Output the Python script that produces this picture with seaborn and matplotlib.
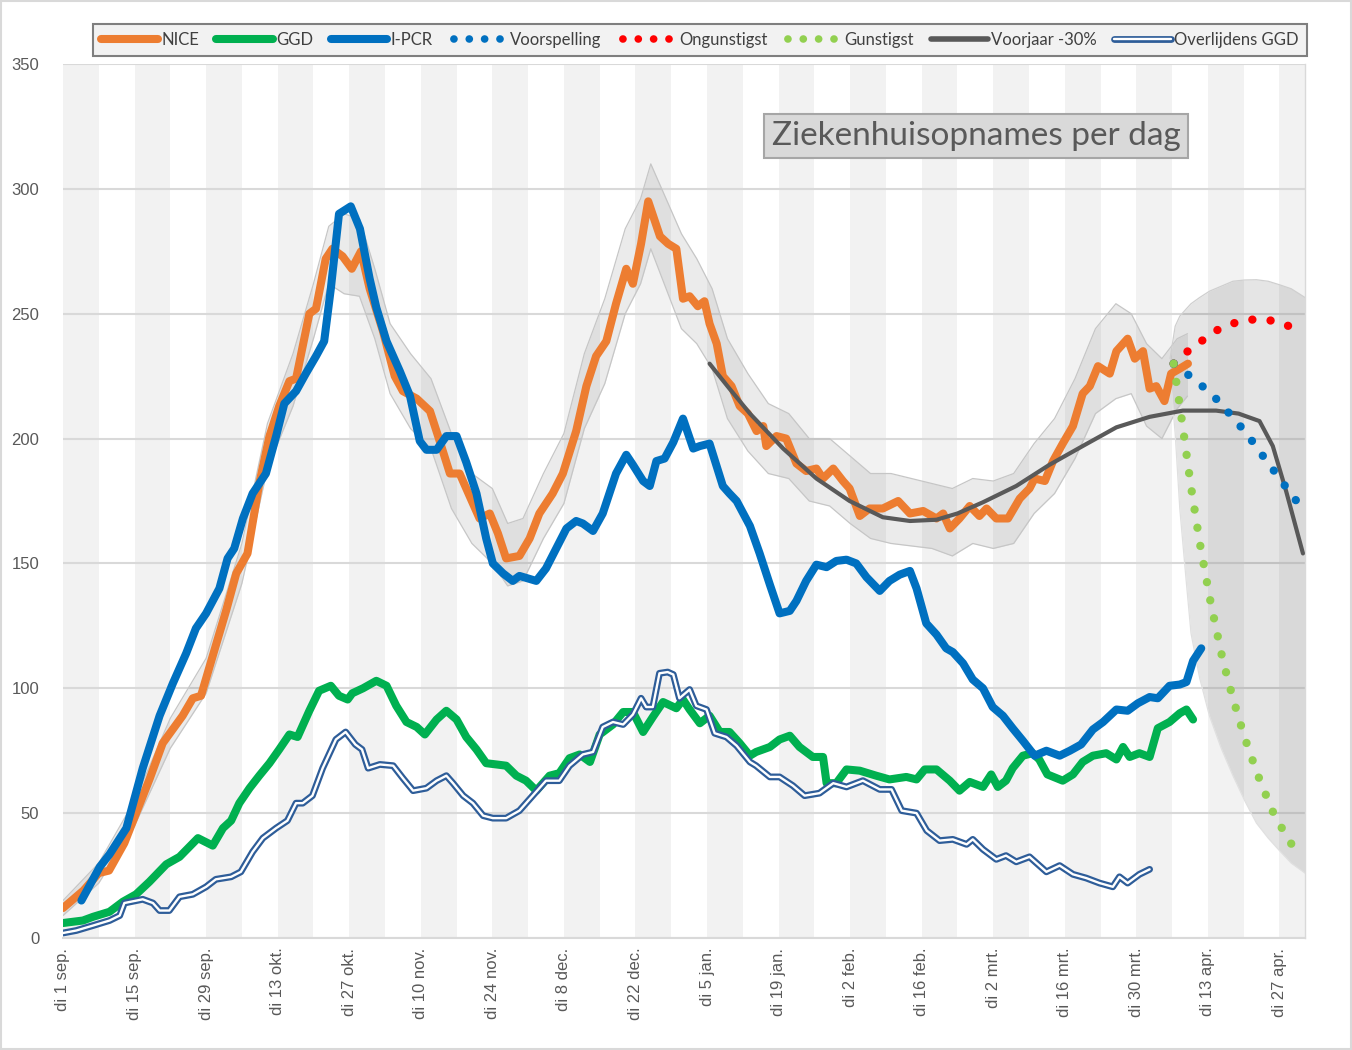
import numpy as np
import pandas as pd
import matplotlib
matplotlib.use("Agg")
import matplotlib.pyplot as plt
import matplotlib.patheffects as pe
from matplotlib.lines import Line2D
from matplotlib.patches import Rectangle
import seaborn as sns

# ---------------- data (x = days since di 1 sep. 2020) ----------------
tick_days = [0, 14, 28, 42, 56, 70, 84, 98, 112, 126, 140, 154, 168, 182, 196, 210, 224, 238]
tick_labels = ["di 1 sep.", "di 15 sep.", "di 29 sep.", "di 13 okt.", "di 27 okt.", "di 10 nov.",
               "di 24 nov.", "di 8 dec.", "di 22 dec.", "di 5 jan.", "di 19 jan.", "di 2 feb.",
               "di 16 feb.", "di 2 mrt.", "di 16 mrt.", "di 30 mrt.", "di 13 apr.", "di 27 apr."]

nice_days = [0, 4, 7, 9, 12, 17, 19.5, 23.4, 25.4, 27, 29.3, 31.9, 33.9, 36.1, 38.4, 40.4, 42.3, 44.3,
             45.6, 46.9, 48.2, 49.5, 51.4, 52.7, 54.7, 56.5, 58.3, 60, 62.6, 64.9, 66.5, 69.2, 71.8,
             73.7, 75.7, 77.6, 78.9, 81.5, 83.5, 85.1, 86.7, 89.3, 91.3, 93.2, 95.8, 97.8, 100.4,
             102.4, 104.3, 106.3, 108.2, 110.2, 111.5, 113.1, 114.5, 116.8, 118.4, 120, 121.3, 122.6,
             124.2, 125.5, 126.5, 127.9, 129.1, 130.8, 132.4, 134, 135.7, 137, 137.6, 139.6, 141.5,
             143.5, 145.4, 147.4, 148.7, 150.7, 152.6, 153.9, 155.9, 157.8, 160.4, 163.4, 165.7,
             168.3, 170.9, 172.2, 173.5, 175.4, 177.4, 179.3, 180.7, 182.6, 184.9, 187.2, 189.1,
             190.1, 192.1, 193.7, 195.6, 197.6, 199.5, 200.9, 202.5, 204.8, 206.1, 208.3, 209.7,
             211.3, 212.6, 213.9, 215.5, 216.8, 218.5, 220.1]
nice_vals = [12, 19, 26, 27, 38, 64, 78, 89, 96, 97, 113, 131, 146, 154, 182, 201, 213, 223,
             224, 237, 250, 252, 272, 276, 273, 268, 275, 260, 243, 225, 219, 216, 211,
             199, 186, 186, 180, 168, 170, 162, 152, 153, 160, 170, 178, 186, 203,
             221, 233, 239, 254, 268, 262, 278, 295, 281, 278, 276, 256, 257,
             253, 255, 246, 238, 225, 221, 213, 210, 203, 205, 197, 201, 200,
             190, 187, 188, 184, 188, 183, 180, 169, 172, 172, 175, 170,
             171, 168, 170, 164, 168, 173, 169, 172, 168, 168, 176, 180,
             184, 183, 191, 198, 205, 218, 221, 229, 226, 235, 240, 232,
             235, 220, 221, 215, 226, 228, 230]

band_days = [0, 7, 14, 21, 28, 35, 40, 45, 49, 52, 55, 58, 61, 64, 68, 72, 76, 80, 84, 87, 90, 94, 98,
             102, 106, 110, 113, 115, 118, 121, 124, 127, 130, 134, 138, 142, 146, 150, 154, 158, 162,
             166, 170, 174, 178, 182, 186, 190, 194, 198, 202, 206, 209, 212, 215, 218, 220]
band_hi = [15, 30, 55, 88, 112, 158, 206, 234, 262, 285, 290, 288, 268, 246, 234, 224, 202, 186, 180,
           166, 168, 186, 202, 234, 256, 284, 296, 310, 296, 282, 272, 260, 240, 226, 214, 210, 200,
           200, 193, 186, 186, 184, 182, 180, 184, 183, 186, 198, 208, 224, 244, 254, 250, 238, 232,
           240, 242]
band_lo = [9, 22, 45, 76, 98, 142, 188, 213, 240, 262, 258, 257, 240, 218, 204, 196, 172, 158, 150,
           141, 143, 160, 174, 204, 222, 250, 262, 276, 260, 244, 238, 228, 208, 195, 186, 184, 175,
           173, 166, 160, 158, 157, 156, 153, 158, 156, 158, 170, 178, 192, 210, 216, 218, 205, 200,
           212, 217]

ggd_days = [0, 3.9, 5.9, 9.1, 11.7, 14.3, 16.9, 20.2, 22.8, 26.4, 29.3, 31.3, 32.9, 34.5, 36.5, 38.4,
            40.4, 42.3, 44.3, 45.9, 48.2, 50.1, 52.4, 54, 55.7, 56.6, 58.7, 61.3, 63.3, 65.2, 67.2,
            69.2, 70.8, 73.1, 75, 77, 78.9, 80.9, 82.8, 84.8, 86.7, 88.7, 90.6, 92.6, 95.2, 97.1,
            99.1, 101.1, 103.1, 105, 107.6, 109.6, 111.5, 113.5, 115.4, 117.4, 120, 121.3, 122.6,
            124.6, 126.5, 128.5, 130.4, 132.4, 134.4, 135.6, 138.3, 140.2, 142.2, 144.1, 146.7,
            148.7, 149.4, 151.3, 153.3, 155.9, 159.1, 161.7, 165, 167, 168.6, 170.9, 173.5, 175.4,
            177.4, 180, 181.6, 182.9, 184.5, 185.8, 187.8, 189.7, 191, 192.6, 195.6, 197.6, 199.5,
            201.5, 204.1, 206.1, 207.4, 208.7, 210.6, 212.6, 214.2, 216.5, 218.5, 219.8, 221.1]
ggd_vals = [6, 7, 8.5, 10.5, 14.5, 17.5, 22.5, 29.5, 32.5, 40, 37, 44, 47, 54, 60, 65,
            70, 75.5, 81.5, 80.5, 91, 99, 101, 97, 95.5, 98, 100, 103, 101, 93, 86.5,
            84.5, 81.5, 87.5, 91, 87.5, 80.5, 75.5, 70, 69.5, 69, 65, 63, 59, 65, 66,
            72, 73.5, 70.5, 81.5, 85.5, 90.5, 90.5, 82.5, 88.5, 94.5, 92, 95.5, 91.5,
            86, 89, 82.5, 82.5, 78, 73, 74.5, 76.5, 79.5, 81, 76.5, 72.5,
            72.5, 62, 62, 67.5, 67, 65, 63.5, 64.5, 63.5, 67.5, 67.5, 63, 59,
            62.5, 60.5, 65.5, 60.5, 63, 68, 73, 74, 71.5, 65.5, 63, 65.5, 70.5,
            73, 74, 71.5, 76.5, 72.5, 74, 72.5, 84, 86.5, 90, 91.5, 87.5]

pcr_days = [3.6, 7.2, 9.1, 12.4, 15.6, 18.9, 21.5, 24.1, 26, 28, 30.6, 32.2, 33.5, 35.2, 37.1, 39.7,
            41.7, 43.3, 45.6, 47.5, 49.5, 51.1, 52.4, 54, 56.3, 58.1, 60, 61.3, 63.3, 65.9, 67.9,
            69.8, 71.1, 73.1, 75, 77, 78.9, 80.9, 82.8, 84.1, 86.1, 88, 89.3, 92.6, 94.5, 96.5,
            98.5, 100.4, 101.7, 103.7, 105.6, 108.2, 110.2, 111.5, 113.5, 114.8, 116.1, 117.7,
            119.4, 121.3, 123.3, 124.6, 126.5, 129.1, 130.4, 131.8, 133.1, 134.4, 136.3, 138.3,
            140.2, 142.2, 143.5, 145.4, 147.4, 149.4, 151.3, 153.3, 155.2, 157.2, 159.8, 161.7,
            163.7, 165.7, 167, 168.9, 170.9, 172.8, 174.1, 176.1, 178, 180, 181.9, 183.9, 185.8,
            187.8, 190.1, 192.4, 195, 197, 199.2, 201.5, 203.5, 206.1, 208.3, 210.3, 212.6, 214.2,
            216.5, 218.5, 219.8, 221.1, 222.7]
pcr_vals = [15, 28.5, 33.5, 44, 68, 89, 102, 114, 124, 130, 140, 152, 156, 168, 178, 186,
            201, 214, 219, 226, 233, 239, 260, 290, 293, 284, 264, 252.5, 239, 227, 217,
            199, 195.5, 195.5, 201, 201, 190.5, 178, 160, 150, 146, 143, 145, 143, 148, 156,
            164, 167, 166, 163, 170, 186, 193.5, 189.5, 183, 181, 191, 192,
            198.5, 208, 196, 197, 198, 181, 178, 175, 170, 165, 154, 141.5,
            130, 131, 135, 143, 149.5, 148.5, 151, 151.5, 150, 144.5, 139, 143,
            145.5, 147, 140, 126, 121.5, 116, 114.5, 110, 103.5, 100, 92.5, 89, 84,
            79, 73, 75, 73, 75, 77.5, 83.5, 86.5, 91.5, 91, 94, 96.5, 96,
            101, 101.5, 102.5, 111, 116]

ovl_days = [0, 2.6, 5.9, 9.1, 11.1, 12, 15.6, 17.6, 18.9, 20.8, 22.8, 25.4, 28, 29.9, 32.9, 34.8,
            37.1, 39.1, 41.7, 43.9, 45.6, 46.9, 48.8, 50.8, 53.4, 55.3, 57.2, 58.5, 59.7, 62, 64.6,
            66.5, 68.5, 71.1, 73.1, 75, 76.3, 78.3, 80.2, 82.2, 84.1, 86.7, 89.3, 91.9, 94.5, 97.1,
            99.1, 101.7, 103.7, 105.6, 107.6, 109.6, 111.5, 113.1, 114.1, 115.4, 116.7, 118.3,
            119.4, 120.6, 122.6, 123.9, 125.9, 127.5, 129.8, 131.8, 134.4, 135.6, 138.3, 140.2,
            142.8, 145.1, 148, 150.7, 153.3, 156.5, 159.8, 162.1, 164.1, 167, 169, 171.5, 174.1,
            176.8, 178, 180, 182.6, 184.5, 186.5, 189.1, 192.4, 195, 197.6, 200.2, 202.8, 205.4,
            206.7, 208.3, 210.6, 212.6]
ovl_vals = [2, 3, 5, 7, 9, 14, 15.5, 14, 11, 11, 16.5, 17.5, 20.5, 23.5, 24.5, 26.5,
            34.5, 40, 44, 47, 54, 54, 57, 68, 79.5, 82.5, 77.5, 75.5, 68, 69.5, 69,
            64, 59, 60, 63, 65, 62, 57, 54, 49, 48, 48, 51, 57, 63, 63,
            69, 73.5, 74.5, 84.5, 86.5, 85.5, 89.5, 96, 92.5, 92.5, 106, 106.5,
            105.5, 96, 99.5, 93, 91.5, 82, 80.5, 77, 70.5, 69, 64.5, 64.5,
            61, 57, 58, 62, 60.5, 63, 59.5, 59.5, 51, 50, 43, 39, 39.5,
            37.5, 39.5, 35.5, 31.5, 33, 30.5, 32.5, 26.5, 29, 25.5, 24, 22, 20.5,
            24.5, 22, 25.5, 27.5]

vj_days = [126.5, 130, 134.4, 140.9, 147.4, 153.9, 160.4, 165.7, 170.9, 175, 180, 186.5, 193, 199.5,
           206.1, 212.6, 219.1, 225.6, 230, 234.1, 236.7, 239.3, 242.6]
vj_vals = [230, 221, 210, 196, 184, 175, 168.5, 167, 167.5, 170, 174.5, 181, 189.5, 197,
           204.5, 208.7, 211.2, 211.2, 210, 207, 197, 179, 154]

fc_days = [217.3, 220.5, 223.5, 226.4, 228.9, 231.5, 233.8, 236.1, 238.4, 240.8, 242.6]
fc_vals = [230, 225, 220, 214.4, 208.3, 202.3, 195.7, 189.4, 183, 176.3, 172]

bad_days = [217.3, 220.3, 223.4, 226.6, 230.3, 234.1, 238, 241.6, 242.9]
bad_vals = [230, 235.4, 240, 244.5, 247, 248, 246.7, 243.4, 242.5]

good_days = [217.3, 219.0, 220.6, 222.4, 224.5, 226.9, 228.9, 231.1, 233.7, 236.6, 238.5, 240.5]
good_vals = [230, 206, 182, 158.4, 134.8, 111.4, 96, 80.8, 65.6, 51, 43.9, 37.1]

fan_days = [216.6, 217.6, 218.5, 219.8, 220.7, 222.4, 224.3, 226.6, 228.9, 231.2, 233.5, 235.8,
            238, 240.3, 243]
fan_lo = [226, 202, 172, 142, 122, 104, 89, 76, 65, 55, 46, 40, 35, 30, 26]
fan_hi = [232, 245, 249, 252, 254, 256.5, 259, 261, 263, 263.5, 263.6, 263, 261.6, 260, 256.5]

# ---------------- styling ----------------
C_NICE = "#ED7D31"
C_GGD = "#00B050"
C_PCR = "#0070C0"
C_RED = "#FF0000"
C_LG = "#92D050"
C_VJ = "#595959"
C_OVL = "#2E5D99"
DOT_LW = 6.0
DOTS = (0, (0.01, 2.2))
LEG_DOTS = (1.5, (0.01, 2.0))

sns.set_theme(style="white")
plt.rcParams["font.family"] = ["Liberation Sans", "DejaVu Sans"]

W, H = 1352, 1050
fig = plt.figure(figsize=(W / 100, H / 100), dpi=100)
ax = fig.add_axes([63 / W, 1 - 938 / H, (1305 - 63) / W, (938 - 64) / H])

# weekly background bands
for t in tick_days:
    ax.axvspan(t, t + 7, color="#f2f2f2", lw=0, zorder=0)

ax.set_xlim(0, 243)
ax.set_ylim(0, 350)
ax.set_yticks(range(0, 351, 50))
ax.set_axisbelow(True)
ax.yaxis.grid(True, color="#d9d9d9", lw=1.5)
ax.xaxis.grid(False)

# NICE confidence band
ax.fill_between(band_days, band_lo, band_hi, color="black", alpha=0.08, lw=0, zorder=1)
ax.plot(band_days, band_hi, color="#c6c6c6", lw=0.9, zorder=1.1)
ax.plot(band_days, band_lo, color="#c6c6c6", lw=0.9, zorder=1.1)

# forecast fan
ax.fill_between(fan_days, fan_lo, fan_hi, color="black", alpha=0.10, lw=0, zorder=1)
ax.plot(fan_days, fan_hi, color="#cfcfcf", lw=0.9, zorder=1.1)
ax.plot(fan_days, fan_lo, color="#e0e0e0", lw=0.9, zorder=1.1)

common = dict(ax=ax, sort=False, estimator=None, legend=False)

sns.lineplot(x=ggd_days, y=ggd_vals, color=C_GGD, lw=5.8, zorder=3, **common)
ax.lines[-1].set_solid_capstyle("round"); ax.lines[-1].set_solid_joinstyle("round")

sns.lineplot(x=ovl_days, y=ovl_vals, color="white", lw=1.7, zorder=3.5, **common)
ovl_line = ax.lines[-1]
ovl_line.set_path_effects([pe.Stroke(linewidth=4.9, foreground=C_OVL), pe.Normal()])

sns.lineplot(x=nice_days, y=nice_vals, color=C_NICE, lw=5.8, zorder=4, **common)
ax.lines[-1].set_solid_capstyle("round"); ax.lines[-1].set_solid_joinstyle("round")

sns.lineplot(x=pcr_days, y=pcr_vals, color=C_PCR, lw=5.8, zorder=5, **common)
ax.lines[-1].set_solid_capstyle("round"); ax.lines[-1].set_solid_joinstyle("round")

sns.lineplot(x=vj_days, y=vj_vals, color=C_VJ, lw=3, zorder=6, **common)
ax.lines[-1].set_solid_capstyle("round")

for d, v, c in [(bad_days, bad_vals, C_RED), (fc_days, fc_vals, C_PCR), (good_days, good_vals, C_LG)]:
    sns.lineplot(x=d, y=v, color=c, lw=DOT_LW, zorder=7, **common)
    ln = ax.lines[-1]
    ln.set_linestyle(DOTS)
    ln.set_dash_capstyle("round")

# axes cosmetics
for s in ["top", "left"]:
    ax.spines[s].set_visible(False)
ax.spines["bottom"].set_color("#d9d9d9")
ax.spines["bottom"].set_linewidth(1.5)
ax.spines["right"].set_color("#d9d9d9")
ax.spines["right"].set_linewidth(1.0)

ax.set_xticks(tick_days)
ax.set_xticklabels(tick_labels, rotation=90, fontsize=12, color="#595959")
ax.tick_params(axis="x", length=0, pad=7)
ax.tick_params(axis="y", length=0, pad=17, labelsize=12, labelcolor="#595959")
ax.set_xlabel("")
ax.set_ylabel("")

# legend
handles = [
    Line2D([], [], color=C_NICE, lw=5.8, solid_capstyle="round"),
    Line2D([], [], color=C_GGD, lw=5.8, solid_capstyle="round"),
    Line2D([], [], color=C_PCR, lw=5.8, solid_capstyle="round"),
    Line2D([], [], color=C_PCR, lw=5.5, linestyle=LEG_DOTS, dash_capstyle="round"),
    Line2D([], [], color=C_RED, lw=5.5, linestyle=LEG_DOTS, dash_capstyle="round"),
    Line2D([], [], color=C_LG, lw=5.5, linestyle=LEG_DOTS, dash_capstyle="round"),
    Line2D([], [], color=C_VJ, lw=4, solid_capstyle="round"),
    Line2D([], [], color="white", lw=1.7,
           path_effects=[pe.Stroke(linewidth=4.9, foreground=C_OVL), pe.Normal()]),
]
labels = ["NICE", "GGD", "I-PCR", "Voorspelling", "Ongunstigst", "Gunstigst",
          "Voorjaar -30%", "Overlijdens GGD"]
leg = fig.legend(handles, labels, loc="center",
                 bbox_to_anchor=(93 / W, 1 - 58 / H, (1307 - 93) / W, 36 / H),
                 mode="expand", ncol=8, frameon=True, fancybox=False,
                 edgecolor="#7f7f7f", facecolor="#f2f2f2", framealpha=1,
                 handlelength=3.4, handletextpad=0.2, columnspacing=0.6,
                 borderaxespad=0, borderpad=0.5,
                 prop={"family": ["Lato", "DejaVu Sans"], "size": 12}, labelcolor="#404040")
leg.get_frame().set_linewidth(1.5)

# title box
fig.text(976 / W, 1 - 136 / H, "Ziekenhuisopnames per dag", ha="center", va="center",
         fontsize=24, family=["Lato", "DejaVu Sans"], color="#595959",
         bbox=dict(boxstyle="square,pad=0.22", fc="#d9d9d9", ec="#a6a6a6", lw=1.5))

# figure border
fig.patches.append(Rectangle((0.001, 0.001), 0.998, 0.998, transform=fig.transFigure,
                             fill=False, ec="#d9d9d9", lw=1.5))

fig.savefig("out.png", dpi=100)
